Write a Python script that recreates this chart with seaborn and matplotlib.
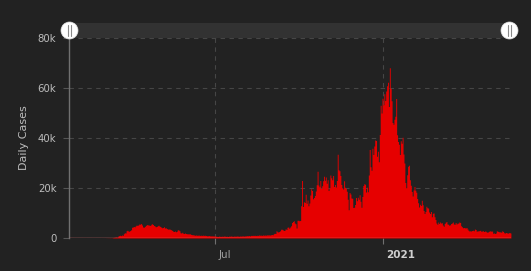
import numpy as np
import pandas as pd
import matplotlib
matplotlib.use("Agg")
import matplotlib.pyplot as plt
import matplotlib.dates as mdates
from matplotlib.patches import Rectangle, Ellipse
from matplotlib.lines import Line2D
from matplotlib.transforms import ScaledTranslation
import seaborn as sns

# ---- data: UK daily cases (by publish date) ----
jan2020 = [2]
feb2020 = [0, 0, 0, 0, 1, 0, 0, 0, 1, 4, 0, 0, 0, 0, 0, 0, 0, 0, 0, 0, 0, 0, 0, 0, 4, 0, 2, 4, 5]
mar2020 = [12, 4, 11, 34, 29, 48, 45, 69, 43, 62, 150, 250, 300, 420, 380, 350, 800, 1000, 1100, 950,
           1200, 1050, 1700, 2100, 2000, 2900, 3100, 2800, 2700, 3000, 3300]
apr2020 = [4300, 4400, 4600, 4500, 4900, 5200, 5000, 5300, 5600, 5500, 5800, 5200, 4400, 4300, 4600,
           5000, 5300, 5400, 5100, 5200, 5000, 5500, 5700, 5400, 5000, 4800, 4500, 4600, 4900, 5100]
may2020 = [4800, 4600, 4300, 4100, 4200, 4500, 4000, 4100, 3800, 3600, 3500, 3700, 3400, 3300, 3000,
           2700, 2600, 2800, 2500, 2700, 3300, 3200, 2900, 2100, 2000, 2300, 1900, 1800, 2000, 1800, 1700]
jun2020 = [1700, 1600, 1800, 1500, 1400, 1300, 1300, 1200, 1100, 1200, 1100, 1100, 1200, 1000, 1100,
           1100, 1000, 1200, 1000, 1100, 1000, 900, 900, 1000, 900, 800, 900, 800, 850, 800]
jul2020 = [800, 700, 650, 600, 750, 700, 600, 750, 650, 700, 800, 700, 650, 700, 600, 750, 700, 800,
           750, 650, 700, 800, 700, 750, 800, 750, 700, 800, 750, 800, 850]
aug2020 = [800, 750, 900, 850, 950, 900, 1000, 850, 1050, 1000, 1100, 1000, 1100, 1050, 1000, 1100,
           1050, 1200, 1100, 1150, 1000, 1250, 1100, 1150, 1200, 1100, 1300, 1200, 1250, 1200, 1300]
sep2020 = [1400, 1300, 1700, 1900, 1800, 2900, 2500, 2400, 2600, 2900, 3500, 3500, 3300, 3000, 3100,
           3700, 3400, 4300, 4400, 3900, 4400, 4900, 6200, 6600, 6900, 6000, 5700, 4000, 7100, 7100]
oct2020 = [6900, 7000, 12900, 23000, 12600, 14500, 14200, 17500, 13900, 15200, 12900, 14000, 17200,
           19700, 19000, 15700, 16200, 17000, 18800, 21300, 26700, 21200, 20500, 23000, 19800, 20900,
           22900, 24700, 23100, 24400, 21900]
nov2020 = [23300, 19000, 20000, 25200, 24100, 23300, 25000, 20600, 21400, 20400, 23000, 33500, 27300,
           26900, 25000, 21400, 20100, 19600, 22900, 20300, 19900, 18700, 15500, 11300, 18200, 17600,
           16000, 15900, 12200, 12300]
dec2020 = [13400, 16200, 14900, 16300, 15500, 17300, 14700, 12300, 16600, 21000, 21700, 21500, 18400,
           20300, 18500, 25200, 35400, 28500, 27100, 35900, 33400, 36800, 39200, 39000, 32700, 34700,
           30500, 41400, 53100, 50000, 55900]
jan2021 = [53300, 57700, 55000, 58800, 60900, 62300, 52600, 68100, 59900, 54900, 46200, 45500, 47500,
           48700, 55800, 41300, 38600, 37500, 33400, 38900, 37900, 40300, 33600, 30000, 22200, 20100,
           25300, 28700, 29100, 23300, 21100]
feb2021 = [18600, 16800, 19200, 20600, 19100, 18300, 15800, 14100, 12400, 13500, 13000, 15100, 13300,
           11000, 9800, 10600, 12700, 12100, 12000, 10400, 9800, 10600, 8500, 9900, 10000, 8500, 7400, 6000]
mar2021 = [5500, 6400, 5800, 6400, 6000, 6100, 5200, 4700, 5800, 6300, 6600, 5600, 5500, 5100, 5300,
           5800, 6000, 6400, 5600, 5500, 6200, 5600, 5900, 6000, 6400, 6200, 4900, 4500, 4100, 4200, 4100]
apr2021 = [4000, 4200, 3600, 3100, 2800, 2900, 2800, 3000, 3100, 2900, 3600, 3400, 2700, 2900, 2800,
           3000, 3100, 2700, 2800, 2900, 2600, 2800, 2700, 2400, 2300, 2600, 2800, 2900, 2700, 2800]
may2021 = [1900, 2000, 1800, 2000, 2900, 2700, 2600, 2400, 2500, 2300, 2900, 2600, 2100, 2000, 2200,
           2100, 1900, 2100, 2200, 2000]

month_starts = ["2020-01-31", "2020-02-01", "2020-03-01", "2020-04-01", "2020-05-01", "2020-06-01",
                "2020-07-01", "2020-08-01", "2020-09-01", "2020-10-01", "2020-11-01", "2020-12-01",
                "2021-01-01", "2021-02-01", "2021-03-01", "2021-04-01", "2021-05-01"]
month_values = [jan2020, feb2020, mar2020, apr2020, may2020, jun2020, jul2020, aug2020, sep2020,
                oct2020, nov2020, dec2020, jan2021, feb2021, mar2021, apr2021, may2021]

x_tick_dates = ["2020-07-01", "2021-01-01"]
x_tick_labels = ["Jul", "2021"]
y_ticks = [0, 20000, 40000, 60000, 80000]
y_tick_labels = ["0", "20k", "40k", "60k", "80k"]
x_limits = ("2020-01-23 02:00", "2021-05-20 14:00")

dates = pd.DatetimeIndex(np.concatenate([pd.date_range(s, periods=len(v), freq="D").values
                                          for s, v in zip(month_starts, month_values)]))
cases = np.concatenate([np.array(v, dtype=float) for v in month_values])
df = pd.DataFrame({"day": mdates.date2num(dates), "cases": cases})

# ---- style ----
BG = "#222222"
RED = "#e60000"
GRID = "#464646"
TXT = "#bdbdbd"

sns.set_theme(style="dark")
plt.rcParams["font.family"] = ["DejaVu Sans"]

W, H = 531, 271
fig = plt.figure(figsize=(W / 100, H / 100), dpi=100, facecolor=BG)
ax = fig.add_axes([69 / W, 33 / H, 442 / W, 200 / H], facecolor=BG)

sns.histplot(data=df, x="day", weights="cases", binwidth=1,
             binrange=(df["day"].min() - 0.5, df["day"].max() + 0.5),
             element="step", fill=True, color=RED, alpha=1, linewidth=0, ax=ax)

ax.axhline(0, color="#e07070", lw=1.0, zorder=4)

ax.set_xlim(mdates.date2num(pd.Timestamp(x_limits[0])), mdates.date2num(pd.Timestamp(x_limits[1])))
ax.set_ylim(0, 80000)
ax.set_yticks(y_ticks)
ax.set_yticklabels(y_tick_labels)
ax.set_xticks(mdates.date2num(pd.to_datetime(x_tick_dates)))
ax.set_xticklabels(x_tick_labels)

ax.set_axisbelow(True)
ax.grid(True, axis="both", color=GRID, lw=0.8, ls=(0, (4, 4)))

for s in ["top", "right", "bottom"]:
    ax.spines[s].set_visible(False)
ax.spines["left"].set_color("#707070")
ax.spines["left"].set_linewidth(1.0)

ax.tick_params(axis="y", colors="#555555", labelcolor=TXT, labelsize=7.3, length=4, width=0.8,
               pad=5, left=True)
ax.tick_params(axis="x", colors="#707070", labelsize=7.5, length=4, width=0.8, pad=5, bottom=True)
offset = ScaledTranslation(3 / 100, 0, fig.dpi_scale_trans)
for lbl, col, wt in zip(ax.get_xticklabels(), ["#a0a0a0", "#cfcfcf"], ["normal", "bold"]):
    lbl.set_ha("left")
    lbl.set_color(col)
    lbl.set_fontweight(wt)
    lbl.set_transform(lbl.get_transform() + offset)

ax.set_xlabel("")
ax.set_ylabel("Daily Cases", color=TXT, fontsize=8)
ax.yaxis.set_label_coords(-0.0905, 0.5)

# ---- navigator band with handles ----
fig.add_artist(Rectangle((69 / W, (H - 38.3) / H), 440 / W, 15.3 / H,
                         transform=fig.transFigure, color="#323232", lw=0))
for cx in (69.5, 509.5):
    cy = H - 30.5
    fig.add_artist(Ellipse((cx / W, cy / H), 17 / W, 17 / H, transform=fig.transFigure,
                           facecolor="white", edgecolor="#dddddd", lw=0.5))
    for dx in (-1.5, 1.5):
        fig.add_artist(Line2D([(cx + dx) / W] * 2, [(cy - 5) / H, (cy + 5) / H],
                              transform=fig.transFigure, color="#8a8a8a", lw=0.8))

fig.savefig("out.png", dpi=100, facecolor=BG)
